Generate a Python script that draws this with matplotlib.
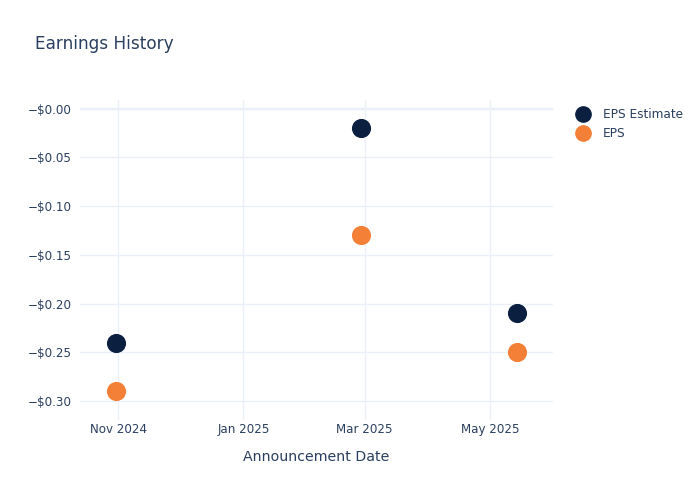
import matplotlib
matplotlib.use("Agg")
import matplotlib.pyplot as plt
import matplotlib.dates as mdates
from matplotlib.ticker import FuncFormatter, FixedLocator
from matplotlib.lines import Line2D
import numpy as np
import datetime as dt

dates = ["2024-10-31", "2025-02-27", "2025-05-14"]
eps_estimate = [-0.24, -0.02, -0.21]
eps_actual = [-0.29, -0.13, -0.25]
series_names = ["EPS Estimate", "EPS"]
y_ticks = [0.0, -0.05, -0.10, -0.15, -0.20, -0.25, -0.30]
x_tick_dates = ["2024-11-01", "2025-01-01", "2025-03-01", "2025-05-01"]
x_tick_labels = ["Nov 2024", "Jan 2025", "Mar 2025", "May 2025"]

TEXT = "#2a3f5f"
GRID = "#ebf0f8"
NAVY = "#0b1f40"
ORANGE = "#f47f37"

plt.rcParams['font.family'] = ['DejaVu Sans']

fig = plt.figure(figsize=(7, 5), dpi=100)
ax = fig.add_axes([80/700, 1-420/500, (553-80)/700, (420-100)/500])

x = [dt.datetime.strptime(d, "%Y-%m-%d") for d in dates]
ax.scatter(x, eps_estimate, s=190, color=NAVY, zorder=3, linewidths=0)
ax.scatter(x, eps_actual, s=190, color=ORANGE, zorder=3, linewidths=0)

ax.set_xlim(dt.datetime(2024, 10, 13, 12), dt.datetime(2025, 5, 31, 16))
ax.set_ylim(-0.3195, 0.0090)

xt = [mdates.date2num(dt.datetime.strptime(d, "%Y-%m-%d")) for d in x_tick_dates]
ax.xaxis.set_major_locator(FixedLocator(xt))
ax.set_xticklabels(x_tick_labels)
ax.yaxis.set_major_locator(FixedLocator(y_ticks))
ax.yaxis.set_major_formatter(FuncFormatter(lambda v, p: "\u2212$%.2f" % abs(v)))

for s in ax.spines.values():
    s.set_visible(False)
ax.grid(True, color=GRID, linewidth=1, zorder=0)
ax.axhline(0, color=GRID, linewidth=1.6, zorder=0)
ax.set_axisbelow(True)
ax.tick_params(axis='both', length=0, labelsize=8.6, colors=TEXT)
ax.tick_params(axis='x', pad=2)
ax.tick_params(axis='y', pad=6)

ax.set_xlabel("Announcement Date", fontsize=10.2, color=TEXT, labelpad=10)

fig.text(35/700, 1-44/500, "Earnings History", fontsize=12.2, color=TEXT, va='center', ha='left')

handles = [Line2D([0], [0], marker='o', linestyle='', markersize=11, color=NAVY),
           Line2D([0], [0], marker='o', linestyle='', markersize=11, color=ORANGE)]
leg = fig.legend(handles, series_names, loc='upper left', bbox_to_anchor=(574/700, 1-108/500),
                 frameon=False, fontsize=8.7, labelcolor=TEXT, handletextpad=0.9,
                 labelspacing=0.52, handlelength=1.5, borderaxespad=0, borderpad=0)

fig.savefig("out.png", dpi=100, facecolor="white")
